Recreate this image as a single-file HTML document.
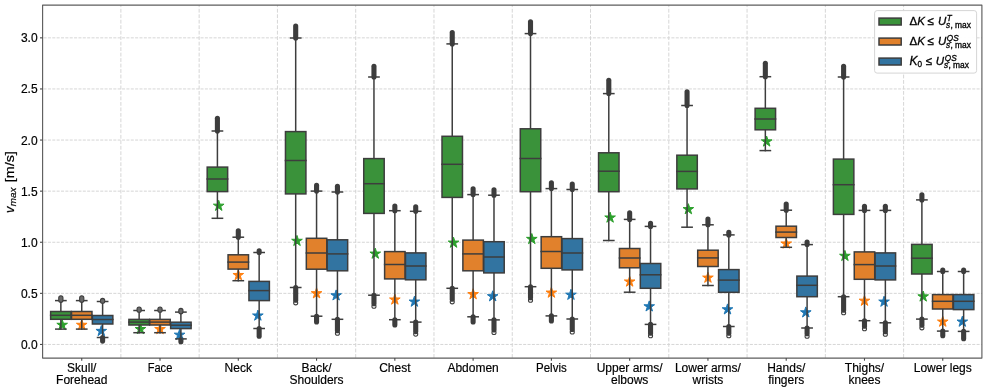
<!DOCTYPE html>
<html><head><meta charset="utf-8"><style>html,body{margin:0;padding:0;background:#fff;width:987px;height:391px;overflow:hidden}svg{display:block;will-change:transform}</style></head><body>
<svg width="987" height="391" viewBox="0 0 987 391">
<rect width="987" height="391" fill="#fff"/>
<g stroke="#d6d6d6" stroke-width="1" fill="none"><line x1="42.6" y1="344.45" x2="981.9" y2="344.45" stroke-dasharray="3.04 1.32" stroke-dashoffset="3.41"/><line x1="42.6" y1="293.35" x2="981.9" y2="293.35" stroke-dasharray="3.04 1.32" stroke-dashoffset="3.41"/><line x1="42.6" y1="242.25" x2="981.9" y2="242.25" stroke-dasharray="3.04 1.32" stroke-dashoffset="3.41"/><line x1="42.6" y1="191.15" x2="981.9" y2="191.15" stroke-dasharray="3.04 1.32" stroke-dashoffset="3.41"/><line x1="42.6" y1="140.05" x2="981.9" y2="140.05" stroke-dasharray="3.04 1.32" stroke-dashoffset="3.41"/><line x1="42.6" y1="88.95" x2="981.9" y2="88.95" stroke-dasharray="3.04 1.32" stroke-dashoffset="3.41"/><line x1="42.6" y1="37.85" x2="981.9" y2="37.85" stroke-dasharray="3.04 1.32" stroke-dashoffset="3.41"/><line x1="120.88" y1="5.1" x2="120.88" y2="358.1" stroke-dasharray="3.83 1.65" stroke-dashoffset="1.78"/><line x1="199.15" y1="5.1" x2="199.15" y2="358.1" stroke-dasharray="3.83 1.65" stroke-dashoffset="1.78"/><line x1="277.43" y1="5.1" x2="277.43" y2="358.1" stroke-dasharray="3.83 1.65" stroke-dashoffset="1.78"/><line x1="355.70" y1="5.1" x2="355.70" y2="358.1" stroke-dasharray="3.83 1.65" stroke-dashoffset="1.78"/><line x1="433.97" y1="5.1" x2="433.97" y2="358.1" stroke-dasharray="3.83 1.65" stroke-dashoffset="1.78"/><line x1="512.25" y1="5.1" x2="512.25" y2="358.1" stroke-dasharray="3.83 1.65" stroke-dashoffset="1.78"/><line x1="590.52" y1="5.1" x2="590.52" y2="358.1" stroke-dasharray="3.83 1.65" stroke-dashoffset="1.78"/><line x1="668.80" y1="5.1" x2="668.80" y2="358.1" stroke-dasharray="3.83 1.65" stroke-dashoffset="1.78"/><line x1="747.07" y1="5.1" x2="747.07" y2="358.1" stroke-dasharray="3.83 1.65" stroke-dashoffset="1.78"/><line x1="825.35" y1="5.1" x2="825.35" y2="358.1" stroke-dasharray="3.83 1.65" stroke-dashoffset="1.78"/><line x1="903.62" y1="5.1" x2="903.62" y2="358.1" stroke-dasharray="3.83 1.65" stroke-dashoffset="1.78"/></g>
<g stroke="#3d3d3d" stroke-width="5.1" stroke-linecap="round"></g>
<polygon points="62.17,319.40 60.91,323.27 56.84,323.27 60.13,325.66 58.88,329.53 62.17,327.14 65.46,329.53 64.20,325.66 67.49,323.27 63.43,323.27" fill="#2ca02c" stroke="#2ca02c" stroke-width="1" stroke-linejoin="round"/>
<g stroke="#3d3d3d" stroke-width="1.5" stroke-linejoin="miter" stroke-linecap="square"><line x1="60.86" y1="311.50" x2="60.86" y2="300.60"/><line x1="60.86" y1="319.30" x2="60.86" y2="329.10"/><line x1="55.75" y1="300.60" x2="65.98" y2="300.60"/><line x1="55.75" y1="329.10" x2="65.98" y2="329.10"/><rect x="50.64" y="311.50" width="20.46" height="7.80" fill="#3a923a"/><line x1="50.64" y1="315.30" x2="71.09" y2="315.30"/></g><rect x="58.76" y="295.70" width="4.2" height="6.70" rx="2.1" fill="#6a6a6a" stroke="#3d3d3d" stroke-width="1.1"/>
<g stroke="#3d3d3d" stroke-width="5.1" stroke-linecap="round"></g>
<polygon points="81.74,319.40 80.48,323.27 76.41,323.27 79.70,325.66 78.45,329.53 81.74,327.14 85.03,329.53 83.77,325.66 87.06,323.27 82.99,323.27" fill="#ff7f0e" stroke="#ff7f0e" stroke-width="1" stroke-linejoin="round"/>
<g stroke="#3d3d3d" stroke-width="1.5" stroke-linejoin="miter" stroke-linecap="square"><line x1="81.74" y1="311.50" x2="81.74" y2="300.60"/><line x1="81.74" y1="319.30" x2="81.74" y2="329.10"/><line x1="76.62" y1="300.60" x2="86.85" y2="300.60"/><line x1="76.62" y1="329.10" x2="86.85" y2="329.10"/><rect x="71.51" y="311.50" width="20.46" height="7.80" fill="#e1812c"/><line x1="71.51" y1="315.30" x2="91.97" y2="315.30"/></g><rect x="79.64" y="295.70" width="4.2" height="6.70" rx="2.1" fill="#6a6a6a" stroke="#3d3d3d" stroke-width="1.1"/>
<g stroke="#3d3d3d" stroke-width="5.1" stroke-linecap="round"><line x1="102.61" y1="337.50" x2="102.61" y2="341.10"/></g>
<polygon points="101.31,325.50 100.05,329.37 95.98,329.37 99.27,331.76 98.01,335.63 101.31,333.24 104.60,335.63 103.34,331.76 106.63,329.37 102.56,329.37" fill="#1f77b4" stroke="#1f77b4" stroke-width="1" stroke-linejoin="round"/>
<g stroke="#3d3d3d" stroke-width="1.5" stroke-linejoin="miter" stroke-linecap="square"><line x1="102.61" y1="315.50" x2="102.61" y2="301.50"/><line x1="102.61" y1="324.00" x2="102.61" y2="337.50"/><line x1="97.50" y1="301.50" x2="107.72" y2="301.50"/><line x1="97.50" y1="337.50" x2="107.72" y2="337.50"/><rect x="92.38" y="315.50" width="20.46" height="8.50" fill="#3274a1"/><line x1="92.38" y1="319.50" x2="112.84" y2="319.50"/></g><rect x="100.51" y="298.40" width="4.2" height="4.90" rx="2.1" fill="#6a6a6a" stroke="#3d3d3d" stroke-width="1.1"/>
<g stroke="#3d3d3d" stroke-width="5.1" stroke-linecap="round"></g>
<polygon points="140.44,323.60 139.19,327.47 135.12,327.47 138.41,329.86 137.15,333.73 140.44,331.34 143.74,333.73 142.48,329.86 145.77,327.47 141.70,327.47" fill="#2ca02c" stroke="#2ca02c" stroke-width="1" stroke-linejoin="round"/>
<g stroke="#3d3d3d" stroke-width="1.5" stroke-linejoin="miter" stroke-linecap="square"><line x1="139.14" y1="319.40" x2="139.14" y2="310.50"/><line x1="139.14" y1="325.00" x2="139.14" y2="332.70"/><line x1="134.03" y1="310.50" x2="144.25" y2="310.50"/><line x1="134.03" y1="332.70" x2="144.25" y2="332.70"/><rect x="128.91" y="319.40" width="20.46" height="5.60" fill="#3a923a"/><line x1="128.91" y1="322.10" x2="149.37" y2="322.10"/></g><rect x="137.04" y="307.00" width="4.2" height="5.30" rx="2.1" fill="#6a6a6a" stroke="#3d3d3d" stroke-width="1.1"/>
<g stroke="#3d3d3d" stroke-width="5.1" stroke-linecap="round"></g>
<polygon points="160.01,323.60 158.76,327.47 154.69,327.47 157.98,329.86 156.72,333.73 160.01,331.34 163.30,333.73 162.05,329.86 165.34,327.47 161.27,327.47" fill="#ff7f0e" stroke="#ff7f0e" stroke-width="1" stroke-linejoin="round"/>
<g stroke="#3d3d3d" stroke-width="1.5" stroke-linejoin="miter" stroke-linecap="square"><line x1="160.01" y1="319.40" x2="160.01" y2="310.50"/><line x1="160.01" y1="325.00" x2="160.01" y2="332.70"/><line x1="154.90" y1="310.50" x2="165.13" y2="310.50"/><line x1="154.90" y1="332.70" x2="165.13" y2="332.70"/><rect x="149.78" y="319.40" width="20.46" height="5.60" fill="#e1812c"/><line x1="149.78" y1="322.10" x2="170.24" y2="322.10"/></g><rect x="157.91" y="307.00" width="4.2" height="5.30" rx="2.1" fill="#6a6a6a" stroke="#3d3d3d" stroke-width="1.1"/>
<g stroke="#3d3d3d" stroke-width="5.1" stroke-linecap="round"><line x1="180.89" y1="338.90" x2="180.89" y2="341.70"/></g>
<polygon points="179.58,329.30 178.32,333.17 174.26,333.17 177.55,335.56 176.29,339.43 179.58,337.04 182.87,339.43 181.62,335.56 184.91,333.17 180.84,333.17" fill="#1f77b4" stroke="#1f77b4" stroke-width="1" stroke-linejoin="round"/>
<g stroke="#3d3d3d" stroke-width="1.5" stroke-linejoin="miter" stroke-linecap="square"><line x1="180.89" y1="322.20" x2="180.89" y2="312.10"/><line x1="180.89" y1="328.60" x2="180.89" y2="338.90"/><line x1="175.77" y1="312.10" x2="186.00" y2="312.10"/><line x1="175.77" y1="338.90" x2="186.00" y2="338.90"/><rect x="170.66" y="322.20" width="20.46" height="6.40" fill="#3274a1"/><line x1="170.66" y1="325.20" x2="191.11" y2="325.20"/></g><rect x="178.79" y="308.40" width="4.2" height="5.50" rx="2.1" fill="#6a6a6a" stroke="#3d3d3d" stroke-width="1.1"/>
<g stroke="#3d3d3d" stroke-width="5.1" stroke-linecap="round"><line x1="217.41" y1="118.20" x2="217.41" y2="131.00"/></g>
<polygon points="218.72,200.30 217.46,204.17 213.39,204.17 216.68,206.56 215.43,210.43 218.72,208.04 222.01,210.43 220.75,206.56 224.04,204.17 219.98,204.17" fill="#2ca02c" stroke="#2ca02c" stroke-width="1" stroke-linejoin="round"/>
<g stroke="#3d3d3d" stroke-width="1.5" stroke-linejoin="miter" stroke-linecap="square"><line x1="217.41" y1="167.10" x2="217.41" y2="131.00"/><line x1="217.41" y1="191.60" x2="217.41" y2="218.30"/><line x1="212.30" y1="131.00" x2="222.53" y2="131.00"/><line x1="212.30" y1="218.30" x2="222.53" y2="218.30"/><rect x="207.19" y="167.10" width="20.46" height="24.50" fill="#3a923a"/><line x1="207.19" y1="179.00" x2="227.64" y2="179.00"/></g>
<g stroke="#3d3d3d" stroke-width="5.1" stroke-linecap="round"><line x1="238.29" y1="230.80" x2="238.29" y2="237.20"/></g>
<polygon points="238.29,269.60 237.03,273.47 232.96,273.47 236.25,275.86 235.00,279.73 238.29,277.34 241.58,279.73 240.32,275.86 243.61,273.47 239.54,273.47" fill="#ff7f0e" stroke="#ff7f0e" stroke-width="1" stroke-linejoin="round"/>
<g stroke="#3d3d3d" stroke-width="1.5" stroke-linejoin="miter" stroke-linecap="square"><line x1="238.29" y1="254.80" x2="238.29" y2="237.20"/><line x1="238.29" y1="269.10" x2="238.29" y2="280.70"/><line x1="233.17" y1="237.20" x2="243.40" y2="237.20"/><line x1="233.17" y1="280.70" x2="243.40" y2="280.70"/><rect x="228.06" y="254.80" width="20.46" height="14.30" fill="#e1812c"/><line x1="228.06" y1="262.10" x2="248.52" y2="262.10"/></g>
<g stroke="#3d3d3d" stroke-width="5.1" stroke-linecap="round"><line x1="259.16" y1="250.70" x2="259.16" y2="252.50"/><line x1="259.16" y1="328.50" x2="259.16" y2="336.20"/></g>
<polygon points="257.86,310.10 256.60,313.97 252.53,313.97 255.82,316.36 254.56,320.23 257.86,317.84 261.15,320.23 259.89,316.36 263.18,313.97 259.11,313.97" fill="#1f77b4" stroke="#1f77b4" stroke-width="1" stroke-linejoin="round"/>
<g stroke="#3d3d3d" stroke-width="1.5" stroke-linejoin="miter" stroke-linecap="square"><line x1="259.16" y1="281.40" x2="259.16" y2="252.50"/><line x1="259.16" y1="300.60" x2="259.16" y2="328.50"/><line x1="254.05" y1="252.50" x2="264.27" y2="252.50"/><line x1="254.05" y1="328.50" x2="264.27" y2="328.50"/><rect x="248.93" y="281.40" width="20.46" height="19.20" fill="#3274a1"/><line x1="248.93" y1="290.60" x2="269.39" y2="290.60"/></g>
<circle cx="295.69" cy="302.80" r="2.05" fill="#fff" stroke="#3d3d3d" stroke-width="1.05"/>
<g stroke="#3d3d3d" stroke-width="5.1" stroke-linecap="round"><line x1="295.69" y1="26.10" x2="295.69" y2="38.00"/><line x1="295.69" y1="287.50" x2="295.69" y2="300.30"/></g>
<polygon points="296.99,235.40 295.74,239.27 291.67,239.27 294.96,241.66 293.70,245.53 296.99,243.14 300.29,245.53 299.03,241.66 302.32,239.27 298.25,239.27" fill="#2ca02c" stroke="#2ca02c" stroke-width="1" stroke-linejoin="round"/>
<g stroke="#3d3d3d" stroke-width="1.5" stroke-linejoin="miter" stroke-linecap="square"><line x1="295.69" y1="131.60" x2="295.69" y2="38.00"/><line x1="295.69" y1="193.90" x2="295.69" y2="287.50"/><line x1="290.58" y1="38.00" x2="300.80" y2="38.00"/><line x1="290.58" y1="287.50" x2="300.80" y2="287.50"/><rect x="285.46" y="131.60" width="20.46" height="62.30" fill="#3a923a"/><line x1="285.46" y1="160.50" x2="305.92" y2="160.50"/></g>
<g stroke="#3d3d3d" stroke-width="5.1" stroke-linecap="round"><line x1="316.56" y1="185.30" x2="316.56" y2="191.10"/><line x1="316.56" y1="316.20" x2="316.56" y2="322.00"/></g>
<polygon points="316.56,287.80 315.31,291.67 311.24,291.67 314.53,294.06 313.27,297.93 316.56,295.54 319.85,297.93 318.60,294.06 321.89,291.67 317.82,291.67" fill="#ff7f0e" stroke="#ff7f0e" stroke-width="1" stroke-linejoin="round"/>
<g stroke="#3d3d3d" stroke-width="1.5" stroke-linejoin="miter" stroke-linecap="square"><line x1="316.56" y1="238.30" x2="316.56" y2="191.10"/><line x1="316.56" y1="269.20" x2="316.56" y2="316.20"/><line x1="311.45" y1="191.10" x2="321.68" y2="191.10"/><line x1="311.45" y1="316.20" x2="321.68" y2="316.20"/><rect x="306.33" y="238.30" width="20.46" height="30.90" fill="#e1812c"/><line x1="306.33" y1="253.00" x2="326.79" y2="253.00"/></g>
<circle cx="337.44" cy="333.20" r="2.05" fill="#fff" stroke="#3d3d3d" stroke-width="1.05"/>
<g stroke="#3d3d3d" stroke-width="5.1" stroke-linecap="round"><line x1="337.44" y1="186.30" x2="337.44" y2="192.00"/><line x1="337.44" y1="319.30" x2="337.44" y2="330.70"/></g>
<polygon points="336.13,289.90 334.87,293.77 330.81,293.77 334.10,296.16 332.84,300.03 336.13,297.64 339.42,300.03 338.17,296.16 341.46,293.77 337.39,293.77" fill="#1f77b4" stroke="#1f77b4" stroke-width="1" stroke-linejoin="round"/>
<g stroke="#3d3d3d" stroke-width="1.5" stroke-linejoin="miter" stroke-linecap="square"><line x1="337.44" y1="239.80" x2="337.44" y2="192.00"/><line x1="337.44" y1="270.80" x2="337.44" y2="319.30"/><line x1="332.32" y1="192.00" x2="342.55" y2="192.00"/><line x1="332.32" y1="319.30" x2="342.55" y2="319.30"/><rect x="327.21" y="239.80" width="20.46" height="31.00" fill="#3274a1"/><line x1="327.21" y1="253.90" x2="347.66" y2="253.90"/></g>
<circle cx="373.96" cy="306.20" r="2.05" fill="#fff" stroke="#3d3d3d" stroke-width="1.05"/>
<g stroke="#3d3d3d" stroke-width="5.1" stroke-linecap="round"><line x1="373.96" y1="66.30" x2="373.96" y2="77.00"/><line x1="373.96" y1="295.20" x2="373.96" y2="303.70"/></g>
<polygon points="375.27,248.20 374.01,252.07 369.94,252.07 373.23,254.46 371.98,258.33 375.27,255.94 378.56,258.33 377.30,254.46 380.59,252.07 376.53,252.07" fill="#2ca02c" stroke="#2ca02c" stroke-width="1" stroke-linejoin="round"/>
<g stroke="#3d3d3d" stroke-width="1.5" stroke-linejoin="miter" stroke-linecap="square"><line x1="373.96" y1="158.60" x2="373.96" y2="77.00"/><line x1="373.96" y1="213.40" x2="373.96" y2="295.20"/><line x1="368.85" y1="77.00" x2="379.08" y2="77.00"/><line x1="368.85" y1="295.20" x2="379.08" y2="295.20"/><rect x="363.74" y="158.60" width="20.46" height="54.80" fill="#3a923a"/><line x1="363.74" y1="183.70" x2="384.19" y2="183.70"/></g>
<g stroke="#3d3d3d" stroke-width="5.1" stroke-linecap="round"><line x1="394.84" y1="206.10" x2="394.84" y2="210.70"/><line x1="394.84" y1="319.70" x2="394.84" y2="324.90"/></g>
<polygon points="394.84,294.10 393.58,297.97 389.51,297.97 392.80,300.36 391.55,304.23 394.84,301.84 398.13,304.23 396.87,300.36 400.16,297.97 396.09,297.97" fill="#ff7f0e" stroke="#ff7f0e" stroke-width="1" stroke-linejoin="round"/>
<g stroke="#3d3d3d" stroke-width="1.5" stroke-linejoin="miter" stroke-linecap="square"><line x1="394.84" y1="251.60" x2="394.84" y2="210.70"/><line x1="394.84" y1="278.90" x2="394.84" y2="319.70"/><line x1="389.72" y1="210.70" x2="399.95" y2="210.70"/><line x1="389.72" y1="319.70" x2="399.95" y2="319.70"/><rect x="384.61" y="251.60" width="20.46" height="27.30" fill="#e1812c"/><line x1="384.61" y1="264.50" x2="405.07" y2="264.50"/></g>
<circle cx="415.71" cy="334.10" r="2.05" fill="#fff" stroke="#3d3d3d" stroke-width="1.05"/>
<g stroke="#3d3d3d" stroke-width="5.1" stroke-linecap="round"><line x1="415.71" y1="206.80" x2="415.71" y2="211.30"/><line x1="415.71" y1="322.10" x2="415.71" y2="331.60"/></g>
<polygon points="414.41,296.20 413.15,300.07 409.08,300.07 412.37,302.46 411.11,306.33 414.41,303.94 417.70,306.33 416.44,302.46 419.73,300.07 415.66,300.07" fill="#1f77b4" stroke="#1f77b4" stroke-width="1" stroke-linejoin="round"/>
<g stroke="#3d3d3d" stroke-width="1.5" stroke-linejoin="miter" stroke-linecap="square"><line x1="415.71" y1="252.90" x2="415.71" y2="211.30"/><line x1="415.71" y1="279.80" x2="415.71" y2="322.10"/><line x1="410.60" y1="211.30" x2="420.82" y2="211.30"/><line x1="410.60" y1="322.10" x2="420.82" y2="322.10"/><rect x="405.48" y="252.90" width="20.46" height="26.90" fill="#3274a1"/><line x1="405.48" y1="266.00" x2="425.94" y2="266.00"/></g>
<circle cx="452.24" cy="301.80" r="2.05" fill="#fff" stroke="#3d3d3d" stroke-width="1.05"/>
<g stroke="#3d3d3d" stroke-width="5.1" stroke-linecap="round"><line x1="452.24" y1="32.60" x2="452.24" y2="43.90"/><line x1="452.24" y1="288.30" x2="452.24" y2="299.30"/></g>
<polygon points="453.54,237.20 452.29,241.07 448.22,241.07 451.51,243.46 450.25,247.33 453.54,244.94 456.84,247.33 455.58,243.46 458.87,241.07 454.80,241.07" fill="#2ca02c" stroke="#2ca02c" stroke-width="1" stroke-linejoin="round"/>
<g stroke="#3d3d3d" stroke-width="1.5" stroke-linejoin="miter" stroke-linecap="square"><line x1="452.24" y1="136.30" x2="452.24" y2="43.90"/><line x1="452.24" y1="197.40" x2="452.24" y2="288.30"/><line x1="447.13" y1="43.90" x2="457.35" y2="43.90"/><line x1="447.13" y1="288.30" x2="457.35" y2="288.30"/><rect x="442.01" y="136.30" width="20.46" height="61.10" fill="#3a923a"/><line x1="442.01" y1="164.30" x2="462.47" y2="164.30"/></g>
<g stroke="#3d3d3d" stroke-width="5.1" stroke-linecap="round"><line x1="473.11" y1="188.80" x2="473.11" y2="194.60"/><line x1="473.11" y1="316.80" x2="473.11" y2="322.00"/></g>
<polygon points="473.11,288.70 471.86,292.57 467.79,292.57 471.08,294.96 469.82,298.83 473.11,296.44 476.40,298.83 475.15,294.96 478.44,292.57 474.37,292.57" fill="#ff7f0e" stroke="#ff7f0e" stroke-width="1" stroke-linejoin="round"/>
<g stroke="#3d3d3d" stroke-width="1.5" stroke-linejoin="miter" stroke-linecap="square"><line x1="473.11" y1="240.10" x2="473.11" y2="194.60"/><line x1="473.11" y1="270.80" x2="473.11" y2="316.80"/><line x1="468.00" y1="194.60" x2="478.23" y2="194.60"/><line x1="468.00" y1="316.80" x2="478.23" y2="316.80"/><rect x="462.88" y="240.10" width="20.46" height="30.70" fill="#e1812c"/><line x1="462.88" y1="253.90" x2="483.34" y2="253.90"/></g>
<circle cx="493.99" cy="332.50" r="2.05" fill="#fff" stroke="#3d3d3d" stroke-width="1.05"/>
<g stroke="#3d3d3d" stroke-width="5.1" stroke-linecap="round"><line x1="493.99" y1="189.80" x2="493.99" y2="195.20"/><line x1="493.99" y1="319.90" x2="493.99" y2="330.00"/></g>
<polygon points="492.68,290.80 491.42,294.67 487.36,294.67 490.65,297.06 489.39,300.93 492.68,298.54 495.97,300.93 494.72,297.06 498.01,294.67 493.94,294.67" fill="#1f77b4" stroke="#1f77b4" stroke-width="1" stroke-linejoin="round"/>
<g stroke="#3d3d3d" stroke-width="1.5" stroke-linejoin="miter" stroke-linecap="square"><line x1="493.99" y1="241.70" x2="493.99" y2="195.20"/><line x1="493.99" y1="272.90" x2="493.99" y2="319.90"/><line x1="488.87" y1="195.20" x2="499.10" y2="195.20"/><line x1="488.87" y1="319.90" x2="499.10" y2="319.90"/><rect x="483.76" y="241.70" width="20.46" height="31.20" fill="#3274a1"/><line x1="483.76" y1="257.00" x2="504.21" y2="257.00"/></g>
<circle cx="530.51" cy="300.20" r="2.05" fill="#fff" stroke="#3d3d3d" stroke-width="1.05"/>
<g stroke="#3d3d3d" stroke-width="5.1" stroke-linecap="round"><line x1="530.51" y1="21.70" x2="530.51" y2="33.60"/><line x1="530.51" y1="286.70" x2="530.51" y2="297.70"/></g>
<polygon points="531.82,233.50 530.56,237.37 526.49,237.37 529.78,239.76 528.53,243.63 531.82,241.24 535.11,243.63 533.85,239.76 537.14,237.37 533.08,237.37" fill="#2ca02c" stroke="#2ca02c" stroke-width="1" stroke-linejoin="round"/>
<g stroke="#3d3d3d" stroke-width="1.5" stroke-linejoin="miter" stroke-linecap="square"><line x1="530.51" y1="128.80" x2="530.51" y2="33.60"/><line x1="530.51" y1="191.70" x2="530.51" y2="286.70"/><line x1="525.40" y1="33.60" x2="535.63" y2="33.60"/><line x1="525.40" y1="286.70" x2="535.63" y2="286.70"/><rect x="520.29" y="128.80" width="20.46" height="62.90" fill="#3a923a"/><line x1="520.29" y1="158.50" x2="540.74" y2="158.50"/></g>
<g stroke="#3d3d3d" stroke-width="5.1" stroke-linecap="round"><line x1="551.39" y1="182.80" x2="551.39" y2="188.60"/><line x1="551.39" y1="315.90" x2="551.39" y2="321.00"/></g>
<polygon points="551.39,287.20 550.13,291.07 546.06,291.07 549.35,293.46 548.10,297.33 551.39,294.94 554.68,297.33 553.42,293.46 556.71,291.07 552.64,291.07" fill="#ff7f0e" stroke="#ff7f0e" stroke-width="1" stroke-linejoin="round"/>
<g stroke="#3d3d3d" stroke-width="1.5" stroke-linejoin="miter" stroke-linecap="square"><line x1="551.39" y1="236.70" x2="551.39" y2="188.60"/><line x1="551.39" y1="268.30" x2="551.39" y2="315.90"/><line x1="546.27" y1="188.60" x2="556.50" y2="188.60"/><line x1="546.27" y1="315.90" x2="556.50" y2="315.90"/><rect x="541.16" y="236.70" width="20.46" height="31.60" fill="#e1812c"/><line x1="541.16" y1="251.50" x2="561.62" y2="251.50"/></g>
<circle cx="572.26" cy="331.90" r="2.05" fill="#fff" stroke="#3d3d3d" stroke-width="1.05"/>
<g stroke="#3d3d3d" stroke-width="5.1" stroke-linecap="round"><line x1="572.26" y1="184.10" x2="572.26" y2="189.50"/><line x1="572.26" y1="319.00" x2="572.26" y2="329.40"/></g>
<polygon points="570.96,289.30 569.70,293.17 565.63,293.17 568.92,295.56 567.66,299.43 570.96,297.04 574.25,299.43 572.99,295.56 576.28,293.17 572.21,293.17" fill="#1f77b4" stroke="#1f77b4" stroke-width="1" stroke-linejoin="round"/>
<g stroke="#3d3d3d" stroke-width="1.5" stroke-linejoin="miter" stroke-linecap="square"><line x1="572.26" y1="238.60" x2="572.26" y2="189.50"/><line x1="572.26" y1="269.90" x2="572.26" y2="319.00"/><line x1="567.15" y1="189.50" x2="577.37" y2="189.50"/><line x1="567.15" y1="319.00" x2="577.37" y2="319.00"/><rect x="562.03" y="238.60" width="20.46" height="31.30" fill="#3274a1"/><line x1="562.03" y1="253.00" x2="582.49" y2="253.00"/></g>
<g stroke="#3d3d3d" stroke-width="5.1" stroke-linecap="round"><line x1="608.79" y1="80.20" x2="608.79" y2="93.60"/></g>
<polygon points="610.09,212.10 608.84,215.97 604.77,215.97 608.06,218.36 606.80,222.23 610.09,219.84 613.39,222.23 612.13,218.36 615.42,215.97 611.35,215.97" fill="#2ca02c" stroke="#2ca02c" stroke-width="1" stroke-linejoin="round"/>
<g stroke="#3d3d3d" stroke-width="1.5" stroke-linejoin="miter" stroke-linecap="square"><line x1="608.79" y1="152.80" x2="608.79" y2="93.60"/><line x1="608.79" y1="191.70" x2="608.79" y2="240.50"/><line x1="603.68" y1="93.60" x2="613.90" y2="93.60"/><line x1="603.68" y1="240.50" x2="613.90" y2="240.50"/><rect x="598.56" y="152.80" width="20.46" height="38.90" fill="#3a923a"/><line x1="598.56" y1="171.20" x2="619.02" y2="171.20"/></g>
<g stroke="#3d3d3d" stroke-width="5.1" stroke-linecap="round"><line x1="629.66" y1="212.70" x2="629.66" y2="219.40"/></g>
<polygon points="629.66,276.10 628.41,279.97 624.34,279.97 627.63,282.36 626.37,286.23 629.66,283.84 632.95,286.23 631.70,282.36 634.99,279.97 630.92,279.97" fill="#ff7f0e" stroke="#ff7f0e" stroke-width="1" stroke-linejoin="round"/>
<g stroke="#3d3d3d" stroke-width="1.5" stroke-linejoin="miter" stroke-linecap="square"><line x1="629.66" y1="248.50" x2="629.66" y2="219.40"/><line x1="629.66" y1="267.80" x2="629.66" y2="292.20"/><line x1="624.55" y1="219.40" x2="634.78" y2="219.40"/><line x1="624.55" y1="292.20" x2="634.78" y2="292.20"/><rect x="619.43" y="248.50" width="20.46" height="19.30" fill="#e1812c"/><line x1="619.43" y1="258.00" x2="639.89" y2="258.00"/></g>
<circle cx="650.54" cy="335.70" r="2.05" fill="#fff" stroke="#3d3d3d" stroke-width="1.05"/>
<g stroke="#3d3d3d" stroke-width="5.1" stroke-linecap="round"><line x1="650.54" y1="223.40" x2="650.54" y2="226.40"/><line x1="650.54" y1="324.40" x2="650.54" y2="333.20"/></g>
<polygon points="649.23,300.90 647.97,304.77 643.91,304.77 647.20,307.16 645.94,311.03 649.23,308.64 652.52,311.03 651.27,307.16 654.56,304.77 650.49,304.77" fill="#1f77b4" stroke="#1f77b4" stroke-width="1" stroke-linejoin="round"/>
<g stroke="#3d3d3d" stroke-width="1.5" stroke-linejoin="miter" stroke-linecap="square"><line x1="650.54" y1="263.50" x2="650.54" y2="226.40"/><line x1="650.54" y1="288.30" x2="650.54" y2="324.40"/><line x1="645.42" y1="226.40" x2="655.65" y2="226.40"/><line x1="645.42" y1="324.40" x2="655.65" y2="324.40"/><rect x="640.31" y="263.50" width="20.46" height="24.80" fill="#3274a1"/><line x1="640.31" y1="274.80" x2="660.76" y2="274.80"/></g>
<g stroke="#3d3d3d" stroke-width="5.1" stroke-linecap="round"><line x1="687.06" y1="91.70" x2="687.06" y2="105.50"/></g>
<polygon points="688.37,203.70 687.11,207.57 683.04,207.57 686.33,209.96 685.08,213.83 688.37,211.44 691.66,213.83 690.40,209.96 693.69,207.57 689.63,207.57" fill="#2ca02c" stroke="#2ca02c" stroke-width="1" stroke-linejoin="round"/>
<g stroke="#3d3d3d" stroke-width="1.5" stroke-linejoin="miter" stroke-linecap="square"><line x1="687.06" y1="155.20" x2="687.06" y2="105.50"/><line x1="687.06" y1="188.90" x2="687.06" y2="227.20"/><line x1="681.95" y1="105.50" x2="692.18" y2="105.50"/><line x1="681.95" y1="227.20" x2="692.18" y2="227.20"/><rect x="676.84" y="155.20" width="20.46" height="33.70" fill="#3a923a"/><line x1="676.84" y1="171.40" x2="697.29" y2="171.40"/></g>
<g stroke="#3d3d3d" stroke-width="5.1" stroke-linecap="round"><line x1="707.94" y1="219.00" x2="707.94" y2="224.80"/></g>
<polygon points="707.94,272.20 706.68,276.07 702.61,276.07 705.90,278.46 704.65,282.33 707.94,279.94 711.23,282.33 709.97,278.46 713.26,276.07 709.19,276.07" fill="#ff7f0e" stroke="#ff7f0e" stroke-width="1" stroke-linejoin="round"/>
<g stroke="#3d3d3d" stroke-width="1.5" stroke-linejoin="miter" stroke-linecap="square"><line x1="707.94" y1="250.20" x2="707.94" y2="224.80"/><line x1="707.94" y1="266.50" x2="707.94" y2="285.50"/><line x1="702.82" y1="224.80" x2="713.05" y2="224.80"/><line x1="702.82" y1="285.50" x2="713.05" y2="285.50"/><rect x="697.71" y="250.20" width="20.46" height="16.30" fill="#e1812c"/><line x1="697.71" y1="257.90" x2="718.17" y2="257.90"/></g>
<circle cx="728.81" cy="335.70" r="2.05" fill="#fff" stroke="#3d3d3d" stroke-width="1.05"/>
<g stroke="#3d3d3d" stroke-width="5.1" stroke-linecap="round"><line x1="728.81" y1="232.20" x2="728.81" y2="234.90"/><line x1="728.81" y1="326.50" x2="728.81" y2="333.20"/></g>
<polygon points="727.51,303.90 726.25,307.77 722.18,307.77 725.47,310.16 724.21,314.03 727.51,311.64 730.80,314.03 729.54,310.16 732.83,307.77 728.76,307.77" fill="#1f77b4" stroke="#1f77b4" stroke-width="1" stroke-linejoin="round"/>
<g stroke="#3d3d3d" stroke-width="1.5" stroke-linejoin="miter" stroke-linecap="square"><line x1="728.81" y1="269.60" x2="728.81" y2="234.90"/><line x1="728.81" y1="292.30" x2="728.81" y2="326.50"/><line x1="723.70" y1="234.90" x2="733.92" y2="234.90"/><line x1="723.70" y1="326.50" x2="733.92" y2="326.50"/><rect x="718.58" y="269.60" width="20.46" height="22.70" fill="#3274a1"/><line x1="718.58" y1="280.10" x2="739.04" y2="280.10"/></g>
<g stroke="#3d3d3d" stroke-width="5.1" stroke-linecap="round"><line x1="765.34" y1="63.20" x2="765.34" y2="76.70"/></g>
<polygon points="766.64,136.00 765.39,139.87 761.32,139.87 764.61,142.26 763.35,146.13 766.64,143.74 769.94,146.13 768.68,142.26 771.97,139.87 767.90,139.87" fill="#2ca02c" stroke="#2ca02c" stroke-width="1" stroke-linejoin="round"/>
<g stroke="#3d3d3d" stroke-width="1.5" stroke-linejoin="miter" stroke-linecap="square"><line x1="765.34" y1="108.30" x2="765.34" y2="76.70"/><line x1="765.34" y1="129.80" x2="765.34" y2="150.60"/><line x1="760.23" y1="76.70" x2="770.45" y2="76.70"/><line x1="760.23" y1="150.60" x2="770.45" y2="150.60"/><rect x="755.11" y="108.30" width="20.46" height="21.50" fill="#3a923a"/><line x1="755.11" y1="119.00" x2="775.57" y2="119.00"/></g>
<g stroke="#3d3d3d" stroke-width="5.1" stroke-linecap="round"><line x1="786.21" y1="204.10" x2="786.21" y2="210.20"/></g>
<polygon points="786.21,238.10 784.96,241.97 780.89,241.97 784.18,244.36 782.92,248.23 786.21,245.84 789.50,248.23 788.25,244.36 791.54,241.97 787.47,241.97" fill="#ff7f0e" stroke="#ff7f0e" stroke-width="1" stroke-linejoin="round"/>
<g stroke="#3d3d3d" stroke-width="1.5" stroke-linejoin="miter" stroke-linecap="square"><line x1="786.21" y1="226.20" x2="786.21" y2="210.20"/><line x1="786.21" y1="237.50" x2="786.21" y2="247.30"/><line x1="781.10" y1="210.20" x2="791.33" y2="210.20"/><line x1="781.10" y1="247.30" x2="791.33" y2="247.30"/><rect x="775.98" y="226.20" width="20.46" height="11.30" fill="#e1812c"/><line x1="775.98" y1="232.10" x2="796.44" y2="232.10"/></g>
<circle cx="807.09" cy="336.20" r="2.05" fill="#fff" stroke="#3d3d3d" stroke-width="1.05"/>
<g stroke="#3d3d3d" stroke-width="5.1" stroke-linecap="round"><line x1="807.09" y1="242.00" x2="807.09" y2="244.60"/><line x1="807.09" y1="328.00" x2="807.09" y2="333.70"/></g>
<polygon points="805.78,306.90 804.52,310.77 800.46,310.77 803.75,313.16 802.49,317.03 805.78,314.64 809.07,317.03 807.82,313.16 811.11,310.77 807.04,310.77" fill="#1f77b4" stroke="#1f77b4" stroke-width="1" stroke-linejoin="round"/>
<g stroke="#3d3d3d" stroke-width="1.5" stroke-linejoin="miter" stroke-linecap="square"><line x1="807.09" y1="276.10" x2="807.09" y2="244.60"/><line x1="807.09" y1="296.70" x2="807.09" y2="328.00"/><line x1="801.97" y1="244.60" x2="812.20" y2="244.60"/><line x1="801.97" y1="328.00" x2="812.20" y2="328.00"/><rect x="796.86" y="276.10" width="20.46" height="20.60" fill="#3274a1"/><line x1="796.86" y1="285.30" x2="817.31" y2="285.30"/></g>
<circle cx="843.61" cy="312.70" r="2.05" fill="#fff" stroke="#3d3d3d" stroke-width="1.05"/>
<g stroke="#3d3d3d" stroke-width="5.1" stroke-linecap="round"><line x1="843.61" y1="66.30" x2="843.61" y2="77.00"/><line x1="843.61" y1="296.70" x2="843.61" y2="310.20"/></g>
<polygon points="844.92,250.40 843.66,254.27 839.59,254.27 842.88,256.66 841.63,260.53 844.92,258.14 848.21,260.53 846.95,256.66 850.24,254.27 846.18,254.27" fill="#2ca02c" stroke="#2ca02c" stroke-width="1" stroke-linejoin="round"/>
<g stroke="#3d3d3d" stroke-width="1.5" stroke-linejoin="miter" stroke-linecap="square"><line x1="843.61" y1="159.10" x2="843.61" y2="77.00"/><line x1="843.61" y1="214.40" x2="843.61" y2="296.70"/><line x1="838.50" y1="77.00" x2="848.73" y2="77.00"/><line x1="838.50" y1="296.70" x2="848.73" y2="296.70"/><rect x="833.39" y="159.10" width="20.46" height="55.30" fill="#3a923a"/><line x1="833.39" y1="184.70" x2="853.84" y2="184.70"/></g>
<circle cx="864.49" cy="328.70" r="2.05" fill="#fff" stroke="#3d3d3d" stroke-width="1.05"/>
<g stroke="#3d3d3d" stroke-width="5.1" stroke-linecap="round"><line x1="864.49" y1="206.20" x2="864.49" y2="210.40"/><line x1="864.49" y1="320.70" x2="864.49" y2="326.20"/></g>
<polygon points="864.49,295.30 863.23,299.17 859.16,299.17 862.45,301.56 861.20,305.43 864.49,303.04 867.78,305.43 866.52,301.56 869.81,299.17 865.74,299.17" fill="#ff7f0e" stroke="#ff7f0e" stroke-width="1" stroke-linejoin="round"/>
<g stroke="#3d3d3d" stroke-width="1.5" stroke-linejoin="miter" stroke-linecap="square"><line x1="864.49" y1="251.90" x2="864.49" y2="210.40"/><line x1="864.49" y1="279.30" x2="864.49" y2="320.70"/><line x1="859.37" y1="210.40" x2="869.60" y2="210.40"/><line x1="859.37" y1="320.70" x2="869.60" y2="320.70"/><rect x="854.26" y="251.90" width="20.46" height="27.40" fill="#e1812c"/><line x1="854.26" y1="264.60" x2="874.72" y2="264.60"/></g>
<circle cx="885.36" cy="334.20" r="2.05" fill="#fff" stroke="#3d3d3d" stroke-width="1.05"/>
<g stroke="#3d3d3d" stroke-width="5.1" stroke-linecap="round"><line x1="885.36" y1="206.20" x2="885.36" y2="210.40"/><line x1="885.36" y1="322.80" x2="885.36" y2="331.70"/></g>
<polygon points="884.06,296.20 882.80,300.07 878.73,300.07 882.02,302.46 880.76,306.33 884.06,303.94 887.35,306.33 886.09,302.46 889.38,300.07 885.31,300.07" fill="#1f77b4" stroke="#1f77b4" stroke-width="1" stroke-linejoin="round"/>
<g stroke="#3d3d3d" stroke-width="1.5" stroke-linejoin="miter" stroke-linecap="square"><line x1="885.36" y1="252.90" x2="885.36" y2="210.40"/><line x1="885.36" y1="279.90" x2="885.36" y2="322.80"/><line x1="880.25" y1="210.40" x2="890.47" y2="210.40"/><line x1="880.25" y1="322.80" x2="890.47" y2="322.80"/><rect x="875.13" y="252.90" width="20.46" height="27.00" fill="#3274a1"/><line x1="875.13" y1="266.00" x2="895.59" y2="266.00"/></g>
<circle cx="921.89" cy="327.80" r="2.05" fill="#fff" stroke="#3d3d3d" stroke-width="1.05"/>
<g stroke="#3d3d3d" stroke-width="5.1" stroke-linecap="round"><line x1="921.89" y1="194.80" x2="921.89" y2="199.90"/><line x1="921.89" y1="319.10" x2="921.89" y2="325.30"/></g>
<polygon points="923.19,291.00 921.94,294.87 917.87,294.87 921.16,297.26 919.90,301.13 923.19,298.74 926.49,301.13 925.23,297.26 928.52,294.87 924.45,294.87" fill="#2ca02c" stroke="#2ca02c" stroke-width="1" stroke-linejoin="round"/>
<g stroke="#3d3d3d" stroke-width="1.5" stroke-linejoin="miter" stroke-linecap="square"><line x1="921.89" y1="244.40" x2="921.89" y2="199.90"/><line x1="921.89" y1="274.00" x2="921.89" y2="319.10"/><line x1="916.78" y1="199.90" x2="927.00" y2="199.90"/><line x1="916.78" y1="319.10" x2="927.00" y2="319.10"/><rect x="911.66" y="244.40" width="20.46" height="29.60" fill="#3a923a"/><line x1="911.66" y1="258.20" x2="932.12" y2="258.20"/></g>
<g stroke="#3d3d3d" stroke-width="5.1" stroke-linecap="round"><line x1="942.76" y1="270.00" x2="942.76" y2="271.50"/><line x1="942.76" y1="331.10" x2="942.76" y2="335.70"/></g>
<polygon points="942.76,316.20 941.51,320.07 937.44,320.07 940.73,322.46 939.47,326.33 942.76,323.94 946.05,326.33 944.80,322.46 948.09,320.07 944.02,320.07" fill="#ff7f0e" stroke="#ff7f0e" stroke-width="1" stroke-linejoin="round"/>
<g stroke="#3d3d3d" stroke-width="1.5" stroke-linejoin="miter" stroke-linecap="square"><line x1="942.76" y1="294.60" x2="942.76" y2="271.50"/><line x1="942.76" y1="309.00" x2="942.76" y2="331.10"/><line x1="937.65" y1="271.50" x2="947.88" y2="271.50"/><line x1="937.65" y1="331.10" x2="947.88" y2="331.10"/><rect x="932.53" y="294.60" width="20.46" height="14.40" fill="#e1812c"/><line x1="932.53" y1="301.30" x2="952.99" y2="301.30"/></g>
<g stroke="#3d3d3d" stroke-width="5.1" stroke-linecap="round"><line x1="963.64" y1="270.00" x2="963.64" y2="271.50"/><line x1="963.64" y1="331.40" x2="963.64" y2="338.70"/></g>
<polygon points="962.33,316.20 961.07,320.07 957.01,320.07 960.30,322.46 959.04,326.33 962.33,323.94 965.62,326.33 964.37,322.46 967.66,320.07 963.59,320.07" fill="#1f77b4" stroke="#1f77b4" stroke-width="1" stroke-linejoin="round"/>
<g stroke="#3d3d3d" stroke-width="1.5" stroke-linejoin="miter" stroke-linecap="square"><line x1="963.64" y1="294.60" x2="963.64" y2="271.50"/><line x1="963.64" y1="309.60" x2="963.64" y2="331.40"/><line x1="958.52" y1="271.50" x2="968.75" y2="271.50"/><line x1="958.52" y1="331.40" x2="968.75" y2="331.40"/><rect x="953.41" y="294.60" width="20.46" height="15.00" fill="#3274a1"/><line x1="953.41" y1="301.30" x2="973.86" y2="301.30"/></g>
<rect x="42.6" y="5.1" width="939.30" height="353.00" fill="none" stroke="#5e5e5e" stroke-width="1.15" stroke-linejoin="round"/>
<g stroke="#4a4a4a" stroke-width="1.1"><line x1="40.00" y1="344.45" x2="42.6" y2="344.45"/><line x1="40.00" y1="293.35" x2="42.6" y2="293.35"/><line x1="40.00" y1="242.25" x2="42.6" y2="242.25"/><line x1="40.00" y1="191.15" x2="42.6" y2="191.15"/><line x1="40.00" y1="140.05" x2="42.6" y2="140.05"/><line x1="40.00" y1="88.95" x2="42.6" y2="88.95"/><line x1="40.00" y1="37.85" x2="42.6" y2="37.85"/><line x1="81.74" y1="358.1" x2="81.74" y2="360.70"/><line x1="160.01" y1="358.1" x2="160.01" y2="360.70"/><line x1="238.29" y1="358.1" x2="238.29" y2="360.70"/><line x1="316.56" y1="358.1" x2="316.56" y2="360.70"/><line x1="394.84" y1="358.1" x2="394.84" y2="360.70"/><line x1="473.11" y1="358.1" x2="473.11" y2="360.70"/><line x1="551.39" y1="358.1" x2="551.39" y2="360.70"/><line x1="629.66" y1="358.1" x2="629.66" y2="360.70"/><line x1="707.94" y1="358.1" x2="707.94" y2="360.70"/><line x1="786.21" y1="358.1" x2="786.21" y2="360.70"/><line x1="864.49" y1="358.1" x2="864.49" y2="360.70"/><line x1="942.76" y1="358.1" x2="942.76" y2="360.70"/></g>
<g font-family="Liberation Sans, sans-serif" font-size="12" fill="#000" stroke="#000" stroke-width="0.18"><text x="37.6" y="348.95" text-anchor="end">0.0</text><text x="37.6" y="297.85" text-anchor="end">0.5</text><text x="37.6" y="246.75" text-anchor="end">1.0</text><text x="37.6" y="195.65" text-anchor="end">1.5</text><text x="37.6" y="144.55" text-anchor="end">2.0</text><text x="37.6" y="93.45" text-anchor="end">2.5</text><text x="37.6" y="42.35" text-anchor="end">3.0</text><text x="81.74" y="371.70" text-anchor="middle">Skull/</text><text x="81.74" y="383.80" text-anchor="middle">Forehead</text><text x="160.01" y="371.70" text-anchor="middle" textLength="24.6" lengthAdjust="spacingAndGlyphs">Face</text><text x="238.29" y="371.70" text-anchor="middle">Neck</text><text x="316.56" y="371.70" text-anchor="middle">Back/</text><text x="316.56" y="383.80" text-anchor="middle">Shoulders</text><text x="394.84" y="371.70" text-anchor="middle">Chest</text><text x="473.11" y="371.70" text-anchor="middle">Abdomen</text><text x="551.39" y="371.70" text-anchor="middle" textLength="30.6" lengthAdjust="spacingAndGlyphs">Pelvis</text><text x="629.66" y="371.70" text-anchor="middle">Upper arms/</text><text x="629.66" y="383.80" text-anchor="middle">elbows</text><text x="707.94" y="371.70" text-anchor="middle">Lower arms/</text><text x="707.94" y="383.80" text-anchor="middle">wrists</text><text x="786.21" y="371.70" text-anchor="middle">Hands/</text><text x="786.21" y="383.80" text-anchor="middle">fingers</text><text x="864.49" y="371.70" text-anchor="middle">Thighs/</text><text x="864.49" y="383.80" text-anchor="middle">knees</text><text x="942.76" y="371.70" text-anchor="middle">Lower legs</text></g>
<g transform="translate(14.2,212.8) rotate(-90)" font-family="Liberation Sans, sans-serif" fill="#000" stroke="#000" stroke-width="0.2"><text x="-0.3" y="0" font-size="12.9" font-style="italic">v</text><text x="6.6" y="1.5" font-size="9.8" font-style="italic">max</text><text x="30.6" y="0" font-size="12.2" textLength="31" lengthAdjust="spacingAndGlyphs">[m/s]</text></g>
<g stroke="#000" stroke-width="0.3"><rect x="874.6" y="10.6" width="102" height="62.5" rx="2.5" ry="2.5" fill="#fff" fill-opacity="0.95" stroke="#d6d6d6" stroke-width="1"/><rect x="879" y="18.10" width="22.2" height="6.9" fill="#3a923a" stroke="#3d3d3d" stroke-width="1.5"/><text x="909.6" y="24.8" font-family="Liberation Sans, sans-serif" fill="#000" font-size="11.5">Δ</text><text x="917.2" y="24.8" font-family="Liberation Sans, sans-serif" fill="#000" font-size="11.5" font-style="italic">K</text><text x="927.6" y="24.8" font-family="Liberation Sans, sans-serif" fill="#000" font-size="11.5">≤</text><text x="938.0" y="24.8" font-family="Liberation Sans, sans-serif" fill="#000" font-size="11.5" font-style="italic">U</text><text x="946.8" y="20.50" font-family="Liberation Sans, sans-serif" fill="#000" font-size="8.2" font-style="italic">T</text><text x="945.9" y="27.70" font-family="Liberation Sans, sans-serif" fill="#000" font-size="8.2" font-style="italic">s</text><text x="950.4" y="27.70" font-family="Liberation Sans, sans-serif" fill="#000" font-size="8.2" textLength="20.6" lengthAdjust="spacingAndGlyphs">, max</text><rect x="879" y="38.10" width="22.2" height="6.9" fill="#e1812c" stroke="#3d3d3d" stroke-width="1.5"/><text x="909.6" y="44.8" font-family="Liberation Sans, sans-serif" fill="#000" font-size="11.5">Δ</text><text x="917.2" y="44.8" font-family="Liberation Sans, sans-serif" fill="#000" font-size="11.5" font-style="italic">K</text><text x="927.6" y="44.8" font-family="Liberation Sans, sans-serif" fill="#000" font-size="11.5">≤</text><text x="938.0" y="44.8" font-family="Liberation Sans, sans-serif" fill="#000" font-size="11.5" font-style="italic">U</text><text x="946.8" y="40.50" font-family="Liberation Sans, sans-serif" fill="#000" font-size="8.2" font-style="italic">QS</text><text x="945.9" y="47.70" font-family="Liberation Sans, sans-serif" fill="#000" font-size="8.2" font-style="italic">s</text><text x="950.4" y="47.70" font-family="Liberation Sans, sans-serif" fill="#000" font-size="8.2" textLength="20.6" lengthAdjust="spacingAndGlyphs">, max</text><rect x="879" y="58.10" width="22.2" height="6.9" fill="#3274a1" stroke="#3d3d3d" stroke-width="1.5"/><text x="909.4" y="64.8" font-family="Liberation Sans, sans-serif" fill="#000" font-size="12" font-style="italic">K</text><text x="917.6" y="66.60" font-family="Liberation Sans, sans-serif" fill="#000" font-size="8.2">0</text><text x="925.7" y="64.8" font-family="Liberation Sans, sans-serif" fill="#000" font-size="11.5">≤</text><text x="935.8" y="64.8" font-family="Liberation Sans, sans-serif" fill="#000" font-size="11.5" font-style="italic">U</text><text x="944.8" y="60.50" font-family="Liberation Sans, sans-serif" fill="#000" font-size="8.2" font-style="italic">QS</text><text x="943.9" y="67.70" font-family="Liberation Sans, sans-serif" fill="#000" font-size="8.2" font-style="italic">s</text><text x="948.4" y="67.70" font-family="Liberation Sans, sans-serif" fill="#000" font-size="8.2" textLength="20.6" lengthAdjust="spacingAndGlyphs">, max</text></g>
</svg>
</body></html>
